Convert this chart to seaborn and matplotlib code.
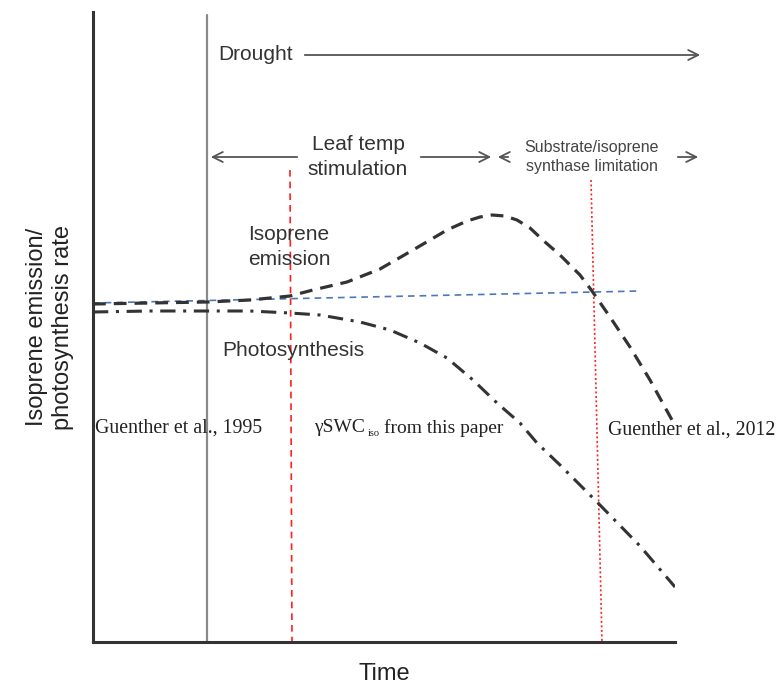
import numpy as np
import pandas as pd
import matplotlib
matplotlib.use("Agg")
import matplotlib.pyplot as plt
import seaborn as sns

sns.set_style("white")
plt.rcParams['font.family'] = ['Liberation Sans', 'DejaVu Sans']

# Schematic curves (time, rate) (pixel-like units, y grows downward)
iso_t = [93, 150, 207, 250, 290, 313, 347, 380, 413, 447, 467, 480, 492, 505, 517, 530, 545, 560, 580, 592, 610, 630, 650, 672]
iso_y = [304, 303, 302, 300, 296, 290, 282, 269, 250, 230, 221, 217, 215, 216, 220, 228, 242, 255, 275, 291, 317, 347, 380, 420]

pho_t = [93, 150, 207, 250, 290, 320, 360, 390, 420, 447, 473, 497, 520, 537, 560, 598, 640, 675]
pho_y = [312, 311, 311, 311, 313, 315, 322, 330, 343, 358, 380, 403, 423, 443, 465, 503, 546, 587]

ref_t = [93, 640]
ref_y = [303, 291]

# Reference lines
start_line_t = [207, 207]
start_line_y = [15, 642]
swc_line_t = [290, 292]
swc_line_y = [170, 642]
g2012_line_t = [591, 602]
g2012_line_y = [180, 642]

df_iso = pd.DataFrame({"t": iso_t, "y": iso_y})
df_pho = pd.DataFrame({"t": pho_t, "y": pho_y})
df_ref = pd.DataFrame({"t": ref_t, "y": ref_y})

fig = plt.figure(figsize=(7.8, 6.87), dpi=100)
ax = fig.add_axes([93/780, (687-642)/687, (675-93)/780, (642-12)/687])
ax.set_xlim(93, 675)
ax.set_ylim(642, 12)

ax.plot(start_line_t, start_line_y, color="#8a8a8a", lw=1.6, zorder=1)
ax.plot(swc_line_t, swc_line_y, color="#ff2020", lw=1.2, ls=(0, (4, 3)), zorder=1)
ax.plot(g2012_line_t, g2012_line_y, color="#ff2020", lw=1.2, ls=(0, (1.2, 1.5)), zorder=1)

sns.lineplot(data=df_ref, x="t", y="y", ax=ax, color="#4a78b8", lw=1.2, ls=(0, (4, 3)), sort=False, estimator=None)
sns.lineplot(data=df_iso, x="t", y="y", ax=ax, color="#333333", lw=2.3, ls=(0, (4, 2.5)), sort=False, estimator=None)
l = sns.lineplot(data=df_pho, x="t", y="y", ax=ax, color="#333333", lw=2.2, sort=False, estimator=None)
l.lines[-1].set_dashes([5, 2.5, 1, 2.5])

for s in ["top", "right"]:
    ax.spines[s].set_visible(False)
for s in ["left", "bottom"]:
    ax.spines[s].set_color("#333333")
    ax.spines[s].set_linewidth(2.2)
ax.set_xticks([])
ax.set_yticks([])
ax.set_xlabel("Time", fontsize=17, color="#222222", labelpad=15)
ax.set_ylabel("Isoprene emission/\nphotosynthesis rate", fontsize=17, color="#222222", labelpad=14)

txt = "#333333"
arrow_kw = dict(arrowstyle="->", color="#555555", lw=1.3, mutation_scale=18)
ax.text(218, 55, "Drought", fontsize=15, color=txt, va="center", ha="left")
ax.annotate("", xy=(703, 55), xytext=(302, 55), arrowprops=arrow_kw, annotation_clip=False)

ax.text(358, 157, "Leaf temp\nstimulation", fontsize=15, color=txt, va="center", ha="center", linespacing=1.38)
ax.annotate("", xy=(208, 157), xytext=(300, 157), arrowprops=arrow_kw)
ax.annotate("", xy=(494, 157), xytext=(418, 157), arrowprops=arrow_kw)
ax.annotate("", xy=(495, 157), xytext=(511, 157), arrowprops=arrow_kw)
ax.text(592, 157, "Substrate/isoprene\nsynthase limitation", fontsize=11.5, color="#444444",
        va="center", ha="center", linespacing=1.35)
ax.annotate("", xy=(701, 157), xytext=(675, 157), arrowprops=arrow_kw, annotation_clip=False)

ax.text(248, 247, "Isoprene\nemission", fontsize=15, color=txt, va="center", ha="left", linespacing=1.38)
ax.text(222, 350, "Photosynthesis", fontsize=15, color=txt, va="center", ha="left")

serif = ['Liberation Serif', 'DejaVu Serif']
ax.text(95, 428, "Guenther et al., 1995", fontsize=14.3, family=serif, color="#222222", va="center", ha="left")
ax.text(314, 428, "γSWC", fontsize=14, family=serif, color="#222222", va="center", ha="left")
ax.text(368, 434, "iso", fontsize=7.5, family=serif, color="#222222", va="center", ha="left")
ax.text(384, 428, "from this paper", fontsize=14, family=serif, color="#222222", va="center", ha="left")
ax.text(608, 430, "Guenther et al., 2012", fontsize=14.3, family=serif, color="#222222", va="center", ha="left", clip_on=False)

fig.savefig("out.png", dpi=100)
